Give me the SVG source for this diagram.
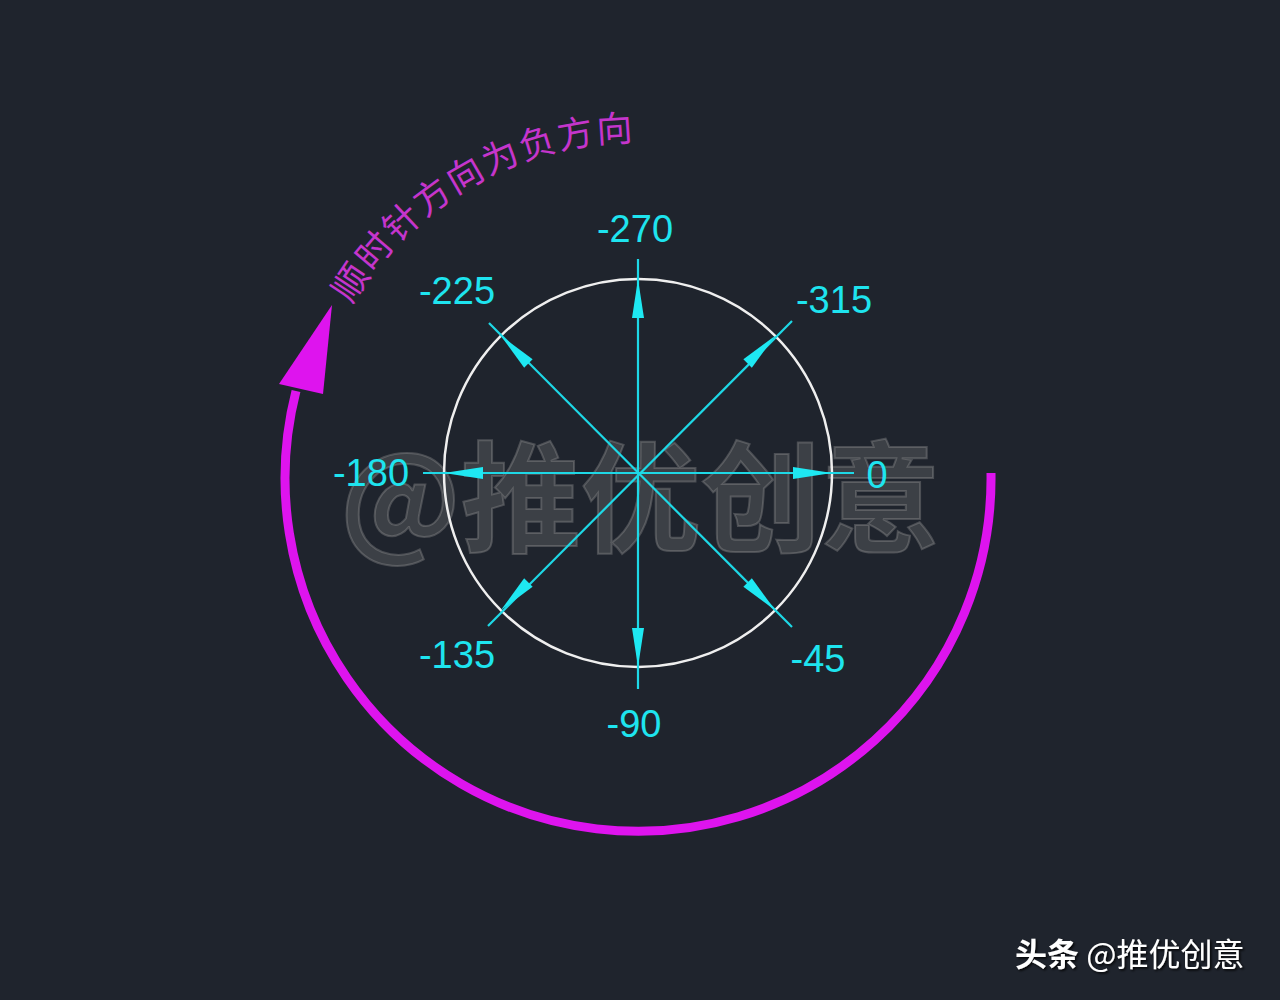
<svg xmlns="http://www.w3.org/2000/svg" width="1280" height="1000" viewBox="0 0 1280 1000">
<style>
.lbl{font-family:"Liberation Sans",Arial,sans-serif;font-size:38px;fill:#1ee4ef}
.ax{stroke:#1ed8e6;stroke-width:2.2;fill:none}
.ah{fill:#1ee8f2}
</style>
<defs>
<path id="txtArc" d="M 306 473 A 332 332 0 0 1 804 185.5"/>
<filter id="sh" x="-10%" y="-10%" width="120%" height="130%"><feDropShadow dx="1.5" dy="1.5" stdDeviation="1" flood-color="#000" flood-opacity="0.9"/></filter>
</defs>
<rect width="1280" height="1000" fill="#1f242d"/>
<g id="watermark">
<text x="340" y="543" font-family="'Noto Sans CJK SC',sans-serif" font-weight="bold" font-size="120" fill="#8a8a8a" fill-opacity="0.28" stroke="#9a9a9a" stroke-opacity="0.35" stroke-width="2">@推优创意</text>
</g>
<g id="circle">
<circle cx="638" cy="473" r="194" fill="none" stroke="#efefef" stroke-width="2.5"/>
</g>
<g id="connectors">
<line class="ax" x1="638" y1="259" x2="638" y2="689"/>
<line class="ax" x1="423" y1="473" x2="854" y2="473"/>
<line class="ax" x1="489" y1="323" x2="792" y2="627"/>
<line class="ax" x1="792" y1="321" x2="488" y2="626"/>
<polygon class="ah" points="638,279 632,318 644,318"/>
<polygon class="ah" points="638,667 632,628 644,628"/>
<polygon class="ah" points="444,473 483,467 483,479"/>
<polygon class="ah" points="832,473 793,467 793,479"/>
<g transform="rotate(-45 638 473)"><polygon class="ah" points="832,473 793,467 793,479"/></g>
<g transform="rotate(45 638 473)"><polygon class="ah" points="832,473 793,467 793,479"/></g>
<g transform="rotate(135 638 473)"><polygon class="ah" points="832,473 793,467 793,479"/></g>
<g transform="rotate(-135 638 473)"><polygon class="ah" points="832,473 793,467 793,479"/></g>
</g>
<g id="labels">
<text class="lbl" x="635" y="242" text-anchor="middle">-270</text>
<text class="lbl" x="834" y="313" text-anchor="middle">-315</text>
<text class="lbl" x="457" y="304" text-anchor="middle">-225</text>
<text class="lbl" x="371" y="486" text-anchor="middle">-180</text>
<text class="lbl" x="877" y="488" text-anchor="middle">0</text>
<text class="lbl" x="457" y="668" text-anchor="middle">-135</text>
<text class="lbl" x="634" y="737" text-anchor="middle">-90</text>
<text class="lbl" x="818" y="672" text-anchor="middle">-45</text>
</g>
<g id="direction-arrow">
<path d="M 991 473 A 353 353 0 1 1 296 391" fill="none" stroke="#de14ee" stroke-width="9"/>
<polygon points="332,305 279,384 323,394" fill="#de14ee"/>
<text font-family="'Noto Sans CJK SC',sans-serif" font-size="36" fill="#c535cc" letter-spacing="2"><textPath href="#txtArc" startOffset="50%" text-anchor="middle">顺时针方向为负方向</textPath></text>
</g>
<g id="footer">
<text x="1015" y="966" font-family="'Noto Sans CJK SC',sans-serif" font-size="32" fill="#ffffff" filter="url(#sh)"><tspan font-weight="bold">头条</tspan> @推优创意</text>
</g>
</svg>
